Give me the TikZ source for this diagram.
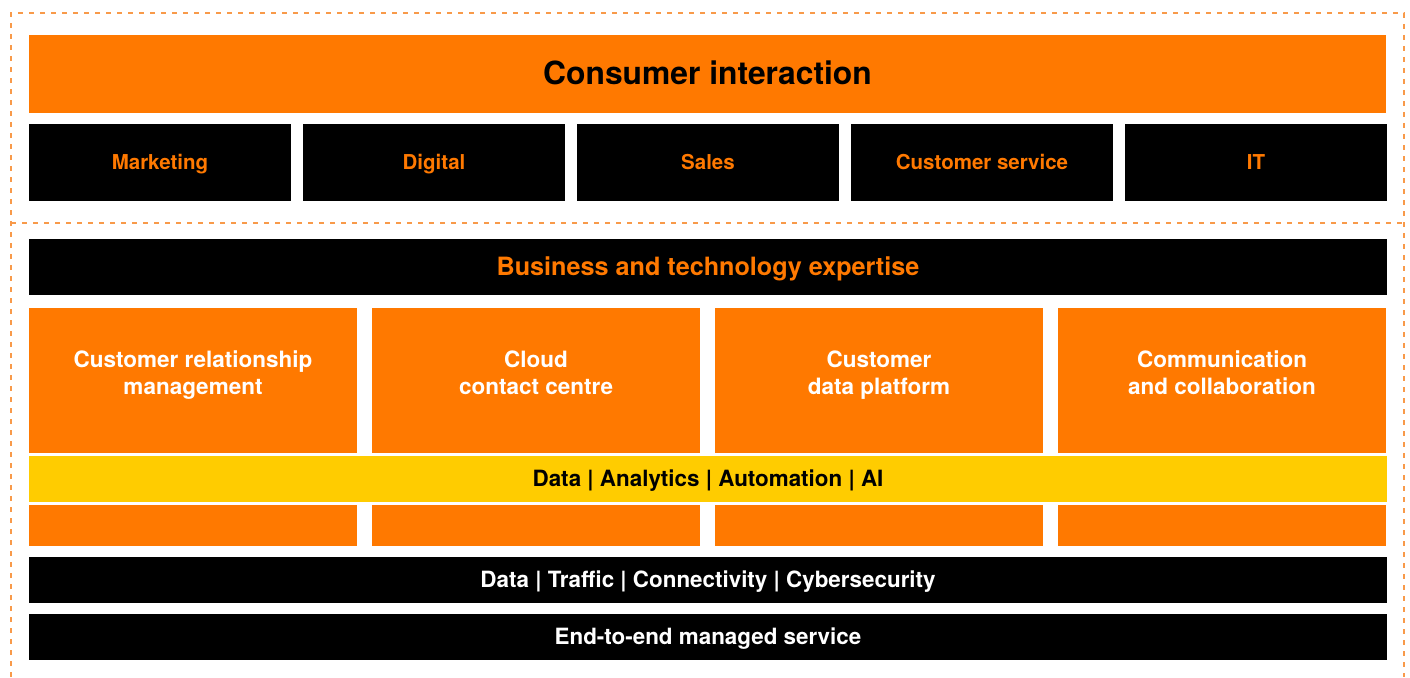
\documentclass[tikz,border=0pt]{standalone}
\usepackage{fontspec}
\setmainfont{TeX Gyre Heros}
\definecolor{org}{HTML}{FF7900}
\definecolor{ylw}{HTML}{FFCC00}
\definecolor{dashorg}{HTML}{F89A4A}
\begin{document}
\begin{tikzpicture}[x=1pt,y=-1pt,
  box/.style={draw=none, inner sep=0pt, outer sep=0pt, anchor=north west},
  tbig/.style={font=\fontsize{31.8}{36}\selectfont\bfseries, text height=21pt, text depth=0pt},
  tmid/.style={font=\fontsize{25.2}{30}\selectfont\bfseries, text height=16pt, text depth=0pt},
  tbody/.style={font=\fontsize{22.4}{27}\selectfont\bfseries, text height=14pt, text depth=0pt},
  tsmall/.style={font=\fontsize{20.5}{25}\selectfont\bfseries, text height=14pt, text depth=0pt},
  coltext/.style={font=\fontsize{22.5}{27}\selectfont\bfseries, align=center, text=white, inner sep=0pt},
  frame/.style={draw=dashorg, line width=1.3pt, dash pattern=on 5pt off 6pt}
]
\useasboundingbox (0,0) rectangle (1410,677);
% dashed frame
\draw[frame] (11,677) -- (11,13) -- (1404,13) -- (1404,677);
\draw[frame] (11,223) -- (1404,223);
% consumer interaction
\node[box, fill=org, minimum width=1357pt, minimum height=78pt, tbig, text=black] (ci) at (29,35) {Consumer interaction};
\node[box, fill=black, minimum width=262pt, minimum height=77pt, tsmall, text=org] (mkt) at (29,124) {Marketing};
\node[box, fill=black, minimum width=262pt, minimum height=77pt, tsmall, text=org] (dig) at (303,124) {Digital};
\node[box, fill=black, minimum width=262pt, minimum height=77pt, tsmall, text=org] (sal) at (577,124) {Sales};
\node[box, fill=black, minimum width=262pt, minimum height=77pt, tsmall, text=org] (csv) at (851,124) {Customer service};
\node[box, fill=black, minimum width=262pt, minimum height=77pt, tsmall, text=org] (it) at (1125,124) {IT};
% business and technology
\node[box, fill=black, minimum width=1358pt, minimum height=56pt, tmid, text=org] (bte) at (29,239) {Business and technology expertise};
% columns
\node[box, fill=org, minimum width=328pt, minimum height=145pt] (crm) at (29,308) {};
\node[box, fill=org, minimum width=328pt, minimum height=145pt] (ccc) at (372,308) {};
\node[box, fill=org, minimum width=328pt, minimum height=145pt] (cdp) at (715,308) {};
\node[box, fill=org, minimum width=328pt, minimum height=145pt] (cac) at (1058,308) {};
\node[coltext] (crmt) at ([yshift=4.5pt]crm.center) {\strut Customer relationship\\\strut management};
\node[coltext] (ccct) at ([yshift=4.5pt]ccc.center) {\strut Cloud\\\strut contact centre};
\node[coltext] (cdpt) at ([yshift=4.5pt]cdp.center) {\strut Customer\\\strut data platform};
\node[coltext] (cact) at ([yshift=4.5pt]cac.center) {\strut Communication\\\strut and collaboration};
\node[box, fill=org, minimum width=328pt, minimum height=41pt] (crmb) at (29,505) {};
\node[box, fill=org, minimum width=328pt, minimum height=41pt] (cccb) at (372,505) {};
\node[box, fill=org, minimum width=328pt, minimum height=41pt] (cdpb) at (715,505) {};
\node[box, fill=org, minimum width=328pt, minimum height=41pt] (cacb) at (1058,505) {};
% yellow band
\node[box, fill=ylw, minimum width=1358pt, minimum height=46pt, tbody, text=black] (daa) at (29,456) {Data | Analytics | Automation | AI};
% bottom bars
\node[box, fill=black, minimum width=1358pt, minimum height=46pt, tbody, text=white] (dtc) at (29,557) {Data | Traffic | Connectivity | Cybersecurity};
\node[box, fill=black, minimum width=1358pt, minimum height=46pt, tbody, text=white] (ems) at (29,614) {End-to-end managed service};
\end{tikzpicture}
\end{document}
